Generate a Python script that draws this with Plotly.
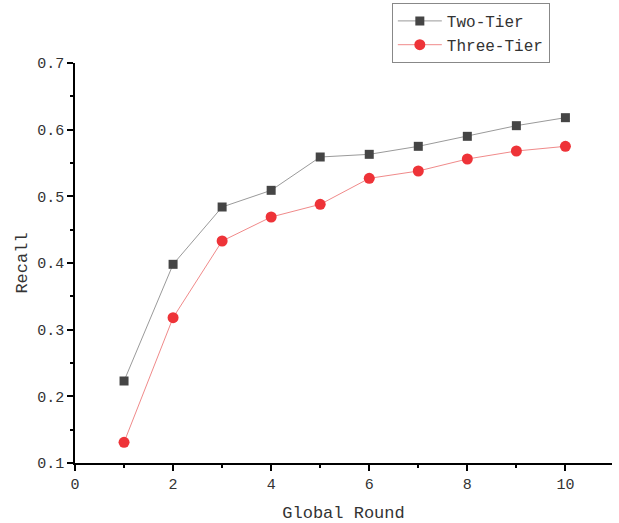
import plotly.graph_objects as go

rounds = [1, 2, 3, 4, 5, 6, 7, 8, 9, 10]
two_tier = [0.223, 0.398, 0.484, 0.509, 0.559, 0.563, 0.575, 0.590, 0.606, 0.618]
three_tier = [0.131, 0.318, 0.433, 0.469, 0.488, 0.527, 0.538, 0.556, 0.568, 0.575]
x_ticks = [0, 2, 4, 6, 8, 10]
y_ticks = [0.1, 0.2, 0.3, 0.4, 0.5, 0.6, 0.7]

FONT = "Liberation Mono, DejaVu Sans Mono, monospace"

fig = go.Figure()
fig.add_trace(go.Scatter(
    x=rounds, y=two_tier, name="Two-Tier", mode="lines+markers",
    line=dict(color="#9a9a9a", width=1),
    marker=dict(symbol="square", size=9, color="#454545"),
))
fig.add_trace(go.Scatter(
    x=rounds, y=three_tier, name="Three-Tier", mode="lines+markers",
    line=dict(color="#f08a8a", width=1),
    marker=dict(symbol="circle", size=11, color="#ee3338"),
))

axis_common = dict(
    showline=True, linecolor="black", linewidth=1.5,
    ticks="outside", ticklen=6, tickwidth=1.5, tickcolor="black",
    showgrid=False, zeroline=False, mirror=False, automargin=False,
    tickfont=dict(family=FONT, size=15, color="#333333"),
)

fig.update_xaxes(
    range=[0, 10.95], tickvals=x_ticks, ticktext=[str(v) for v in x_ticks],
    title=dict(text="Global Round", font=dict(family=FONT, size=17, color="#333333"), standoff=13),
    minor=dict(dtick=1, tick0=0, ticks="outside", ticklen=3, tickwidth=1.5, tickcolor="black"),
    **axis_common,
)
fig.update_yaxes(
    range=[0.1, 0.7], tickvals=y_ticks, ticktext=["%.1f" % v for v in y_ticks],
    title=dict(text="Recall", font=dict(family=FONT, size=17, color="#333333"), standoff=5),
    minor=dict(dtick=0.05, tick0=0.1, ticks="outside", ticklen=3, tickwidth=1.5, tickcolor="black"),
    **axis_common,
)

fig.update_layout(
    width=619, height=523,
    margin=dict(l=75, r=7, t=63, b=60, autoexpand=False),
    plot_bgcolor="white", paper_bgcolor="white",
    showlegend=True,
    legend=dict(
        x=0.59, y=1.15, xanchor="left", yanchor="top",
        bordercolor="#888888", borderwidth=1, bgcolor="white",
        font=dict(family=FONT, size=16, color="#333333"),
        tracegroupgap=0, itemwidth=44,
    ),
)

fig.write_html(
    "out.html",
    config={"displayModeBar": False},
    post_script="document.body.style.margin='0';document.body.style.overflow='hidden';",
)
